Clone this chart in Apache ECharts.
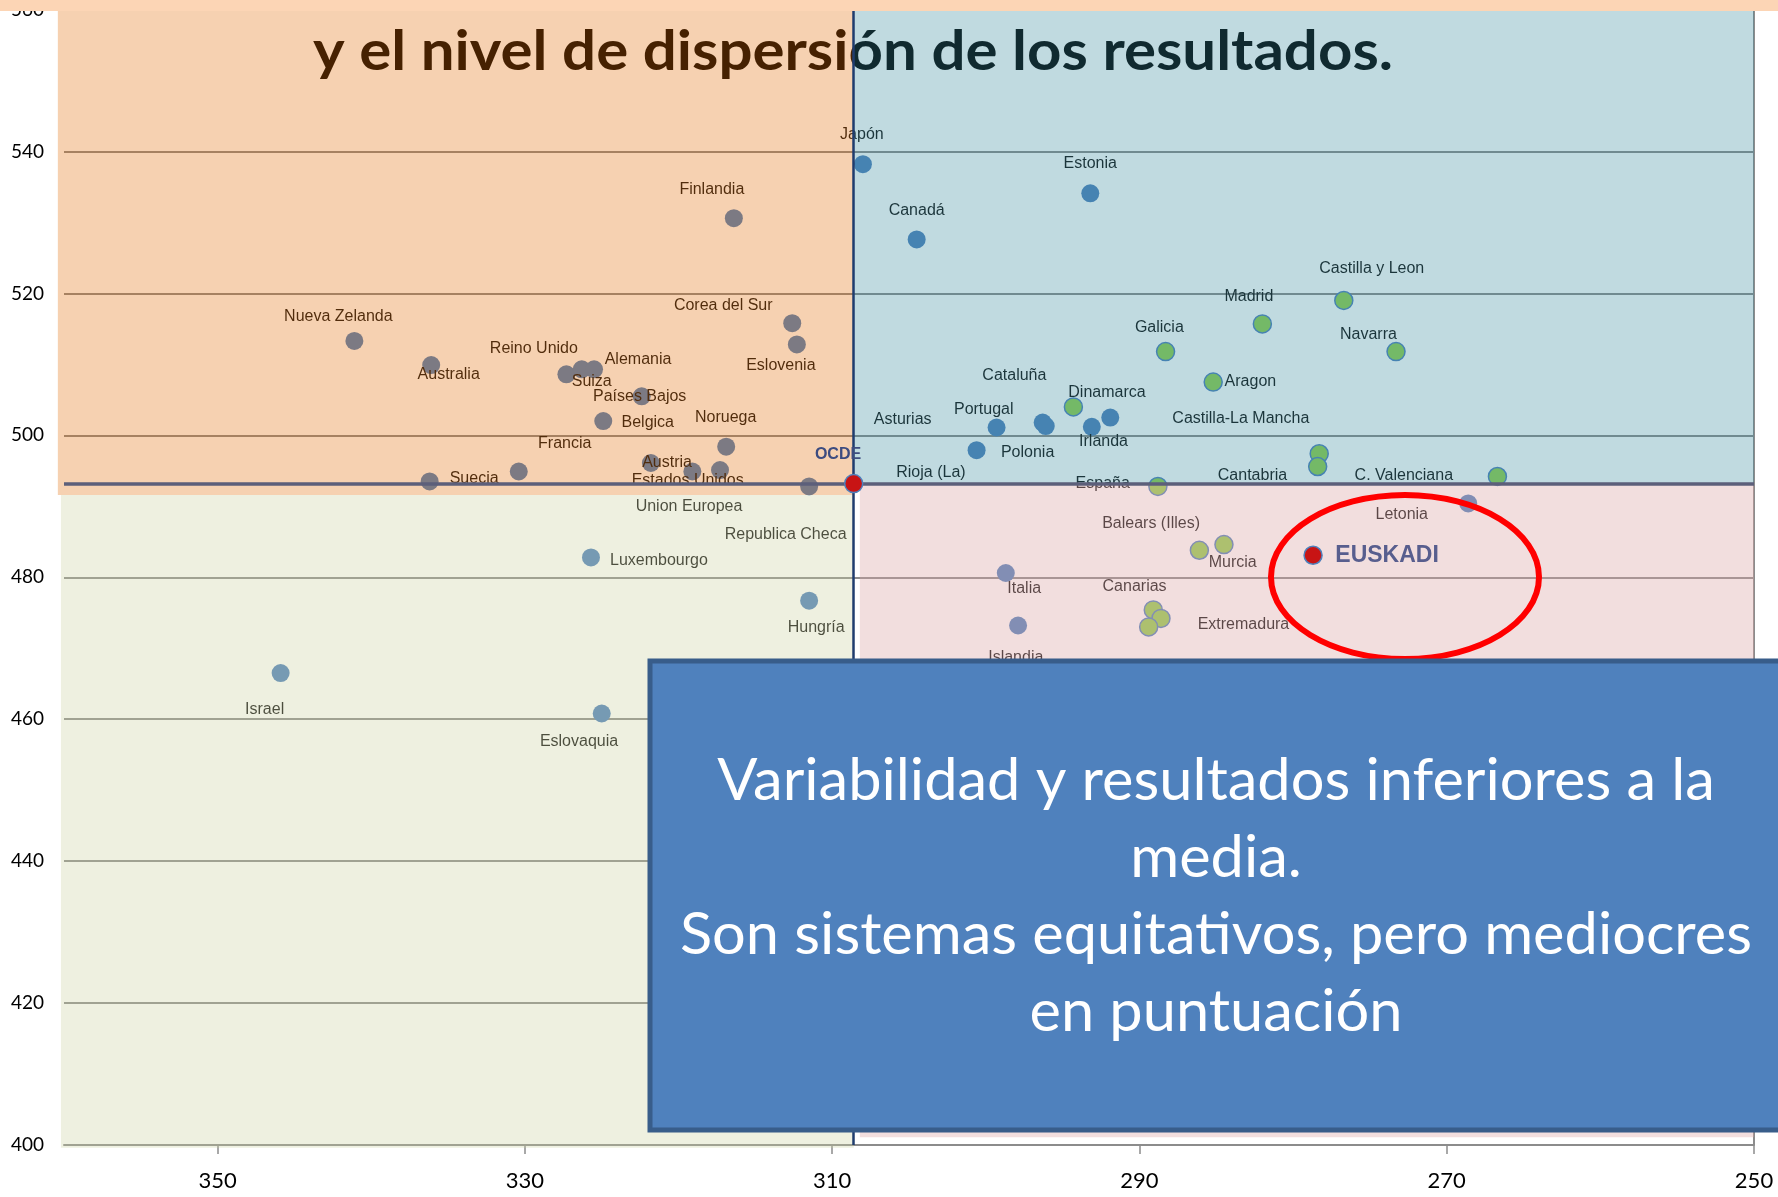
<!DOCTYPE html>
<html>
<head>
<meta charset="utf-8">
<script src="https://cdn.jsdelivr.net/npm/echarts/dist/echarts.min.js"></script>
<style>
html, body { margin: 0; padding: 0; background: #fff; }
#chart { width: 1778px; height: 1197px; }
</style>
</head>
<body>
<div id="chart"></div>
<script>
// eje x (invertido): dispersion de resultados ; eje y: puntuacion media
var xMin = 250, xMax = 360, yMin = 400, yMax = 560;
var xTicks = [250, 270, 290, 310, 330, 350];

// paises
var countryNames = ['Japón', 'Estonia', 'Canadá', 'Finlandia', 'Corea del Sur', 'Eslovenia',
  'Nueva Zelanda', 'Australia', 'Reino Unido', 'Suiza', 'Alemania', 'Países Bajos', 'Belgica',
  'Noruega', 'Francia', 'Austria', 'Estados Unidos', 'Union Europea', 'Republica Checa', 'Suecia',
  'Luxembourgo', 'Hungría', 'Israel', 'Eslovaquia', 'Dinamarca', 'Asturias', 'Rioja (La)',
  'Portugal', 'Irlanda', 'Polonia', 'Letonia', 'Italia', 'Islandia'];
var countryX = [308.0, 293.2, 304.5, 316.4, 312.6, 312.3,
  341.1, 336.1, 327.3, 326.3, 325.5, 322.4, 324.9,
  316.9, 330.4, 321.8, 319.1, 317.3, 311.5, 336.2,
  325.7, 311.5, 345.9, 325.0, 291.9, 296.3, 296.1,
  299.3, 293.1, 300.6, 268.6, 298.7, 297.9];
var countryY = [538.2, 534.1, 527.6, 530.6, 515.8, 512.8,
  513.3, 509.9, 508.6, 509.3, 509.3, 505.5, 502.0,
  498.4, 494.9, 496.1, 494.9, 495.1, 492.8, 493.5,
  482.8, 476.7, 466.5, 460.8, 502.5, 501.8, 501.3,
  501.1, 501.2, 497.9, 490.4, 480.6, 473.2];

// comunidades autonomas
var regionNames = ['Castilla y Leon', 'Madrid', 'Galicia', 'Navarra', 'Aragon', 'Cataluña',
  'Castilla-La Mancha', 'Cantabria', 'C. Valenciana', 'España', 'Balears (Illes)', 'Murcia',
  'Canarias', 'Extremadura', ''];
var regionX = [276.7, 282.0, 288.3, 273.3, 285.2, 294.3,
  278.3, 278.4, 266.7, 288.8, 286.1, 284.5,
  289.1, 288.6, 289.4];
var regionY = [519.0, 515.7, 511.8, 511.8, 507.5, 504.0,
  497.4, 495.6, 494.2, 492.8, 483.8, 484.6,
  475.4, 474.2, 473.0];

// referencias
var refNames = ['OCDE', 'EUSKADI'];
var refX = [308.6, 278.7];
var refY = [493.2, 483.1];

// cuadrantes [x0, x1, y0, y1]
var quadrants = [
  [308.6, 360.4, 491.6, 560],
  [250, 308.6, 493.2, 560],
  [308.6, 360.2, 399.6, 491.6],
  [250, 308.2, 401.1, 493.2]
];
var quadColors = ['rgba(226,106,3,0.31)', 'rgba(52,135,155,0.31)',
  'rgba(203,209,159,0.32)', 'rgba(220,166,166,0.37)'];

var titleText = 'y el nivel de dispersión de los resultados.';
var boxLines = ['Variabilidad y resultados inferiores a la', 'media.',
  'Son sistemas equitativos, pero mediocres', 'en puntuación'];

// posicion de las etiquetas respecto al punto (px)
var labelOffset = {
  'Japón': [-1, -29.5], 'Estonia': [0, -29.5], 'Canadá': [0, -29], 'Finlandia': [-22, -28.4],
  'Corea del Sur': [-69, -17.5], 'Eslovenia': [-16, 21], 'Nueva Zelanda': [-16, -24.5],
  'Australia': [17.5, 9.5], 'Reino Unido': [-32.5, -25.3], 'Suiza': [10, 12.5], 'Alemania': [44, -10],
  'Países Bajos': [-2, 0.5], 'Belgica': [44.5, 1], 'Noruega': [-0.5, -29.5], 'Francia': [46, -27.5],
  'Austria': [16.2, 0], 'Estados Unidos': [-4.7, 9], 'Union Europea': [-31, 36.5],
  'Republica Checa': [-23.5, 48.5], 'Suecia': [44.5, -2.5], 'Luxembourgo': [68, 3.5],
  'Hungría': [7, 27], 'Israel': [-16, 36.4], 'Eslovaquia': [-22.7, 28], 'Dinamarca': [-3.3, -25.3],
  'Asturias': [-140, -3.2], 'Rioja (La)': [-114.8, 47], 'Portugal': [-12.8, -17.8],
  'Irlanda': [11.7, 15], 'Polonia': [51, 2], 'Letonia': [-66.5, 11], 'Italia': [18.4, 15.7],
  'Islandia': [-2.3, 32], 'Castilla y Leon': [28, -31.8], 'Madrid': [-13.5, -27.2],
  'Galicia': [-6.2, -24], 'Navarra': [-27.6, -16.8], 'Aragon': [37.2, 0], 'Cataluña': [-59, -31.8],
  'Castilla-La Mancha': [-78.4, -35.2], 'Cantabria': [-65.2, 9.2], 'C. Valenciana': [-93.6, -1.2],
  'España': [-55.2, -2.4], 'Balears (Illes)': [-48.3, -26.8], 'Murcia': [8.7, 18.2],
  'Canarias': [-18.7, -22.9], 'Extremadura': [82.5, 5.8], 'OCDE': [-15.7, -29.2], 'EUSKADI': [74, 0.5]
};

function pts(names, xs, ys) {
  return names.map(function (n, i) {
    return { name: n, value: [xs[i], ys[i]], label: { offset: labelOffset[n] || [0, 0] } };
  });
}

function fitScale(text, font, target) {
  var ctx = document.createElement('canvas').getContext('2d');
  ctx.font = font;
  return target / ctx.measureText(text).width;
}

var titleFont = 'bold 56px Lato';
var boxFont = '58px Lato';
var titleScale = fitScale(titleText, titleFont, 1080);
var boxScale = fitScale(boxLines[2], boxFont, 1072);

var ptLabel = { show: true, position: 'inside', formatter: '{b}', fontFamily: 'Liberation Sans', fontSize: 16, color: '#111' };

try {
  var chart = echarts.init(document.getElementById('chart'));
  chart.setOption({
    animation: false,
    grid: { left: 64, right: 24, top: 6, bottom: 52 },
    xAxis: {
      type: 'value', inverse: true, min: xMin, max: xMax, interval: 20,
      axisLine: { show: true, lineStyle: { color: '#8c8c8c', width: 2 } },
      axisTick: { show: true, length: 9, customValues: xTicks, lineStyle: { color: '#8c8c8c', width: 1.5 } },
      axisLabel: { customValues: xTicks, fontFamily: 'Lato', fontSize: 22, color: '#000', margin: 25 },
      splitLine: { show: false }
    },
    yAxis: {
      type: 'value', min: yMin, max: yMax, interval: 20,
      axisLine: { show: false }, axisTick: { show: false },
      axisLabel: { fontFamily: 'Lato', fontSize: 19, color: '#000', margin: 20 },
      splitLine: { lineStyle: { color: '#8c8c8c', width: 2 } }
    },
    series: [
      {
        type: 'scatter', name: 'paises', z: 2, symbolSize: 18,
        itemStyle: { color: '#4F81BD', opacity: 1 },
        label: ptLabel,
        data: pts(countryNames, countryX, countryY),
        markLine: {
          z: 3, silent: true, symbol: 'none', label: { show: false },
          lineStyle: { type: 'solid', color: '#8c8c8c', width: 2 },
          data: [{ xAxis: xMin }]
        }
      },
      {
        type: 'scatter', name: 'comunidades', z: 2, symbolSize: 18,
        itemStyle: { color: '#92D050', borderColor: '#4F81BD', borderWidth: 1.5, opacity: 1 },
        label: ptLabel,
        data: pts(regionNames, regionX, regionY)
      },
      {
        type: 'custom', name: 'cuadrantes', z: 5, silent: true, clip: false,
        encode: { x: [0, 1], y: [2, 3] },
        renderItem: function (params, api) {
          var a = api.coord([api.value(0), api.value(3)]);
          var b = api.coord([api.value(1), api.value(2)]);
          return {
            type: 'rect',
            shape: { x: Math.min(a[0], b[0]), y: Math.min(a[1], b[1]), width: Math.abs(a[0] - b[0]), height: Math.abs(a[1] - b[1]) },
            style: { fill: quadColors[params.dataIndex] }
          };
        },
        data: quadrants
      },
      {
        type: 'scatter', name: 'referencia', z: 8, symbolSize: 18,
        itemStyle: { color: '#c81414', borderColor: '#4F81BD', borderWidth: 1.5, opacity: 1 },
        label: ptLabel,
        data: pts(refNames, refX, refY).map(function (d, i) {
          d.label.fontWeight = 'bold';
          d.label.fontSize = i === 0 ? 16 : 23;
          d.label.color = i === 0 ? '#3d4c80' : '#585e8e';
          return d;
        }),
        markLine: {
          z: 7, silent: true, symbol: 'none', label: { show: false },
          data: [
            { yAxis: refY[0], lineStyle: { type: 'solid', color: '#5c5f7a', width: 3.5 } },
            { xAxis: refX[0], lineStyle: { type: 'solid', color: '#1f3c6e', width: 2.5 } }
          ]
        }
      }
    ],
    graphic: [
      {
        type: 'text', z: 1, x: 853, y: 52, scaleX: titleScale,
        style: { text: titleText, font: titleFont, fill: '#000', align: 'center', verticalAlign: 'middle' }
      },
      {
        type: 'ellipse', z: 40, shape: { cx: 1405, cy: 577, rx: 134, ry: 82 },
        style: { fill: 'none', stroke: '#ff0000', lineWidth: 6 }
      },
      {
        type: 'rect', z: 50, shape: { x: 650, y: 661, width: 1136, height: 469 },
        style: { fill: '#4f81bd', stroke: '#385d8a', lineWidth: 5 }
      },
      {
        type: 'text', z: 51, x: 1216, y: 897, scaleX: boxScale,
        style: { text: boxLines.join('\n'), font: boxFont, fill: '#fff', lineHeight: 77, align: 'center', verticalAlign: 'middle' }
      },
      {
        type: 'rect', z: 100, shape: { x: 0, y: 0, width: 1778, height: 11 },
        style: { fill: '#fcd5b5' }
      }
    ]
  });
} catch (e) {
  console.log(e);
}
</script>
</body>
</html>
